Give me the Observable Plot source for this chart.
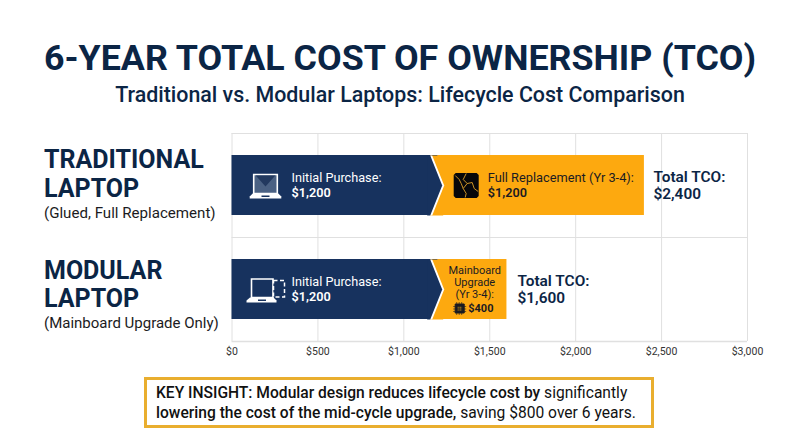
<!DOCTYPE html>
<html><head><meta charset="utf-8">
<script src="https://cdn.jsdelivr.net/npm/d3@7"></script>
<script src="https://cdn.jsdelivr.net/npm/@observablehq/plot@0.6"></script>
<style>
html,body{margin:0;padding:0;background:#fff;width:800px;height:447px;overflow:hidden;font-family:Roboto,sans-serif}
#head{height:120px;position:relative}
#title{position:absolute;left:0;width:800px;top:36px;text-align:center;font-size:35.8px;line-height:44px;font-weight:700;color:#0b2545;white-space:nowrap}
#sub{position:absolute;left:0;width:800px;top:82px;text-align:center;font-size:21.4px;line-height:26px;font-weight:500;color:#0b2545;white-space:nowrap}
#chart svg{display:block}
#chart{height:245px}
#note{position:absolute;left:144px;top:377px;width:504px;height:45px;border:3px solid #e9ae2f;background:#fff;font-size:15.6px;line-height:20px;color:#111;padding:0;}
#note div{margin:2.5px 0 0 9px;white-space:nowrap}
#note b{font-weight:500}
</style></head><body>
<div id="head"><div id="title">6-YEAR TOTAL COST OF OWNERSHIP (TCO)</div><div id="sub">Traditional vs. Modular Laptops: Lifecycle Cost Comparison</div></div>
<div id="chart"></div>
<div id="note"><div><b>KEY INSIGHT: Modular design reduces lifecycle cost by</b> significantly<br><b>lowering the cost of the mid-cycle upgrade,</b> saving $800 over 6 years.</div></div>
<script>
const categories = ["Traditional", "Modular"];
const initialCost = [1200, 1200];
const midCycleCost = [1200, 400];
const totalCost = [2400, 1600];
const xTicks = [0, 500, 1000, 1500, 2000, 2500, 3000];
const navy = "#17325e", orange = "#fda90f", ink = "#0b2545", dark = "#1b1b22", grid = "#e0e0e0";

const rows = categories.map((c, i) => ({row: c, initial: initialCost[i], mid: midCycleCost[i], total: totalCost[i]}));
const money = d => "$" + d3.format(",")(d);

// small glyph helpers: shapes are pixel offsets around a point placed through the scales
const poly = (ctx, pts) => { pts.forEach((p, i) => i ? ctx.lineTo(p[0], p[1]) : ctx.moveTo(p[0], p[1])); ctx.closePath(); };
const box = (ctx, x, y, w, h) => poly(ctx, [[x,y],[x+w,y],[x+w,y+h],[x,y+h]]);
const glyph = (row, cost, draw, o) => Plot.dot([{row, cost}], {x: "cost", y: "row", r: 1, symbol: {draw}, fill: "none", stroke: "none", ...o});

const seams = rows.flatMap(d => [
  glyph(d.row, d.initial, c => box(c, -8, -30, 13, 60), {fill: orange}),
  glyph(d.row, d.initial, c => poly(c, [[-8,-30],[-6,-30],[6,0],[-6,30],[-8,30]]), {fill: "#fff"}),
  glyph(d.row, d.initial, c => poly(c, [[-11,-30],[-8,-30],[4,0],[-8,30],[-11,30]]), {fill: navy})
]);

function laptop(row, ox, w, sw) {
  // ox, w: offset and half-width of the screen relative to $0
  return [
    glyph(row, 0, c => box(c, ox - w, -11, 2*w, 19), {fill: "#4a6183", stroke: "#fff", strokeWidth: sw}),
    glyph(row, 0, c => poly(c, [[ox-w+2,-10],[ox+w-2,-10],[ox,1]]), {fill: "#22395f"}),
    glyph(row, 0, c => poly(c, [[ox-w-1,8],[ox+w+1,8],[ox+w+4,11],[ox+w+4,13],[ox-w-4,13],[ox-w-4,11]]), {fill: "#fff"}),
    glyph(row, 0, c => box(c, ox-4, 10, 8, 1.5), {fill: navy})
  ];
}

const icons = [
  ...laptop("Traditional", 33.5, 11.8, 1.6),
  ...[
    glyph("Modular", 0, c => box(c, 19.5, -10.5, 21.5, 18.5), {fill: "none", stroke: "#fff", strokeWidth: 1.6}),
    glyph("Modular", 0, c => poly(c, [[18,8],[41.5,8],[44.5,11],[44.5,13],[14.5,13],[14.5,11]]), {fill: "#fff"}),
    glyph("Modular", 0, c => box(c, 26, 10, 8, 1.5), {fill: navy}),
    glyph("Modular", 0, c => box(c, 41.5, -9, 11, 16.5), {fill: navy, stroke: "#fff", strokeWidth: 1.5, strokeDasharray: "4 2.5"})
  ],
  // cracked screen
  glyph("Traditional", 1200, c => {
    const x=15.5,y=-12.5,s=25,r=2;
    c.moveTo(x+r,y); c.lineTo(x+s-r,y); c.lineTo(x+s,y+r); c.lineTo(x+s,y+s-r); c.lineTo(x+s-r,y+s); c.lineTo(x+r,y+s); c.lineTo(x,y+s-r); c.lineTo(x,y+r); c.closePath();
  }, {fill: "#07070a"}),
  glyph("Traditional", 1200, c => {
    c.moveTo(28,-12); c.lineTo(25,-6); c.lineTo(29,-2); c.lineTo(25,3); c.lineTo(28,8); c.lineTo(27,12);
    c.moveTo(17,-10); c.lineTo(21,-6); c.lineTo(23,-2); c.lineTo(25,3);
    c.moveTo(29,-2); c.lineTo(34,-3); c.lineTo(36,3); c.lineTo(40,6);
  }, {stroke: "#e0a028", strokeWidth: 0.9}),
  // chip
  glyph("Modular", 1200, c => box(c, 17, 14.5, 9, 9), {fill: "#1b1b22", stroke: "#1b1b22", strokeWidth: 1}),
  glyph("Modular", 1200, c => box(c, 19, 16.5, 5, 5), {fill: "#8a6a1c", stroke: "#1b1b22", strokeWidth: .6}),
  glyph("Modular", 1200, c => {
    [16.5,19,21.5].forEach(t => { c.moveTo(15,t+.5); c.lineTo(28,t+.5); });
    [18,20.5,23].forEach(t => { c.moveTo(t+.5,12.5); c.lineTo(t+.5,25.5); });
  }, {stroke: "#1b1b22", strokeWidth: .6})
];

const label = (row, cost, text, dx, dy, size, weight, fill, anchor) =>
  Plot.text([{row, cost}], {x: "cost", y: "row", text: () => text, dx, dy, fontSize: size, fontWeight: weight, fill, textAnchor: anchor || "start", lineAnchor: "middle"});

const plot = Plot.plot({
  width: 800, height: 245,
  marginLeft: 231.5, marginRight: 53, marginTop: 13, marginBottom: 24,
  x: {domain: [0, 3000]},
  y: {domain: categories, padding: 0, axis: null},
  style: {fontFamily: "Roboto, sans-serif", background: "#fff", overflow: "visible"},
  marks: [
    Plot.ruleX(xTicks, {stroke: grid, strokeWidth: 1}),
    Plot.ruleY(categories, {dy: -52, stroke: grid, strokeWidth: 1}),
    Plot.ruleY(["Modular"], {dy: 52, stroke: grid, strokeWidth: 1.5}),
    Plot.barX(rows, {x1: 0, x2: "initial", y: "row", fill: navy, insetTop: 22, insetBottom: 22}),
    Plot.barX(rows, {x1: "initial", x2: "total", y: "row", fill: orange, insetTop: 22, insetBottom: 22}),
    ...seams,
    ...icons,
    Plot.axisX({ticks: xTicks, tickFormat: money, tickSize: 0, tickPadding: 6, fontSize: 10.5, label: null, fill: "#333", anchor: "bottom"}),

    label("Traditional", 0, "Initial Purchase:", 59.5, -7.5, 12.7, 400, "#fff"),
    label("Traditional", 0, money(initialCost[0]), 59.5, 7.5, 12.7, 600, "#fff"),
    label("Modular", 0, "Initial Purchase:", 59.5, -7.5, 12.7, 400, "#fff"),
    label("Modular", 0, money(initialCost[1]), 59.5, 7.5, 12.7, 600, "#fff"),

    label("Traditional", 1200, "Full Replacement (Yr 3-4):", 49.5, -7.5, 12.8, 400, dark),
    label("Traditional", 1200, money(midCycleCost[0]), 49.5, 7.5, 12.7, 600, dark),
    label("Modular", 1200, "Mainboard", 36.5, -19, 11, 400, dark, "middle"),
    label("Modular", 1200, "Upgrade", 36.5, -7, 11, 400, dark, "middle"),
    label("Modular", 1200, "(Yr 3-4):", 36.5, 5, 11, 400, dark, "middle"),
    label("Modular", 1200, money(midCycleCost[1]), 30, 19, 11, 700, dark),

    label("Traditional", totalCost[0], "Total TCO:", 9, -8.5, 15.4, 600, ink),
    label("Traditional", totalCost[0], money(totalCost[0]), 9, 9, 15.4, 600, ink),
    label("Modular", totalCost[1], "Total TCO:", 10.5, -8, 15.4, 600, ink),
    label("Modular", totalCost[1], money(totalCost[1]), 10.5, 9, 15.4, 600, ink),

    label("Traditional", 0, "TRADITIONAL", -188, -26, 25, 700, ink),
    label("Traditional", 0, "LAPTOP", -188, 3, 25, 700, ink),
    label("Traditional", 0, "(Glued, Full Replacement)", -188, 28, 15.1, 400, dark),
    label("Modular", 0, "MODULAR", -188, -19, 25, 700, ink),
    label("Modular", 0, "LAPTOP", -188, 9, 25, 700, ink),
    label("Modular", 0, "(Mainboard Upgrade Only)", -188, 34, 15, 400, dark)
  ]
});
document.getElementById("chart").append(plot);
</script>
</body></html>
